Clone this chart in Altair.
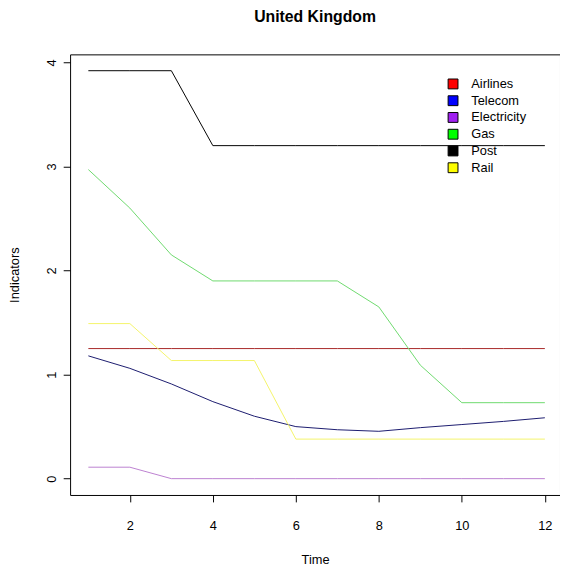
import altair as alt
import pandas as pd

# ---- data ----
time = [1, 2, 3, 4, 5, 6, 7, 8, 9, 10, 11, 12]
airlines = [1.25, 1.25, 1.25, 1.25, 1.25, 1.25, 1.25, 1.25, 1.25, 1.25, 1.25, 1.25]
telecom = [1.18, 1.06, 0.91, 0.74, 0.60, 0.50, 0.47, 0.455, 0.49, 0.52, 0.55, 0.585]
electricity = [0.11, 0.11, 0.0, 0.0, 0.0, 0.0, 0.0, 0.0, 0.0, 0.0, 0.0, 0.0]
gas = [2.97, 2.60, 2.15, 1.90, 1.90, 1.90, 1.90, 1.65, 1.09, 0.73, 0.73, 0.73]
post = [3.92, 3.92, 3.92, 3.20, 3.20, 3.20, 3.20, 3.20, 3.20, 3.20, 3.20, 3.20]
rail = [1.49, 1.49, 1.135, 1.135, 1.135, 0.38, 0.38, 0.38, 0.38, 0.38, 0.38, 0.38]

series_names = ["Airlines", "Telecom", "Electricity", "Gas", "Post", "Rail"]
line_colors = ["#A82828", "#1A1A6E", "#BC80D0", "#6ED96E", "#000000", "#F4F46A"]
legend_colors = ["#FF0000", "#0000FF", "#A020F0", "#00FF00", "#000000", "#FFFF00"]
x_ticks = [2, 4, 6, 8, 10, 12]
y_ticks = [0, 1, 2, 3, 4]

values = {
    "Airlines": airlines,
    "Telecom": telecom,
    "Electricity": electricity,
    "Gas": gas,
    "Post": post,
    "Rail": rail,
}
rows = []
for name in series_names:
    for t, v in zip(time, values[name]):
        rows.append({"Time": t, "Value": v, "Series": name})
df = pd.DataFrame(rows)

FONT = "Liberation Sans"
FS = 13

x_scale = alt.Scale(domain=[0.56, 12.365], nice=False, zero=False)
y_scale = alt.Scale(domain=[-0.157, 4.077], nice=False, zero=False)

x_enc = alt.X(
    "Time:Q",
    scale=x_scale,
    axis=alt.Axis(
        values=x_ticks, title="Time", grid=False, domain=False, format="d",
        tickSize=7, tickColor="#000", labelPadding=18, labelFontSize=FS,
        labelFont=FONT, labelColor="#000", titleFont=FONT, titleFontSize=FS,
        titleFontWeight="normal", titleColor="#000", titleY=60,
        titleBaseline="top", labelFlush=False,
    ),
)
y_enc = alt.Y(
    "Value:Q",
    scale=y_scale,
    axis=alt.Axis(
        values=y_ticks, title="Indicators", grid=False, domain=False, format="d",
        tickSize=7, tickColor="#000", labelAngle=270, labelAlign="center",
        labelBaseline="bottom", labelPadding=5, labelFontSize=FS,
        labelFont=FONT, labelColor="#000", titleFont=FONT, titleFontSize=FS,
        titleFontWeight="normal", titleColor="#000", titleAngle=270,
        titleAlign="center", titleBaseline="middle", titleX=-56, titleY=223.5,
        labelFlush=False,
    ),
)

lines = alt.Chart(df).mark_line(strokeWidth=1, interpolate="linear").encode(
    x=x_enc,
    y=y_enc,
    color=alt.Color(
        "Series:N",
        scale=alt.Scale(domain=series_names, range=line_colors),
        legend=None,
    ),
    detail="Series:N",
)

# points moved outside the plotted domain and clipped: only their legend shows
legend_layer = alt.Chart(df).transform_calculate(
    Hidden="datum.Time - 100", Key="datum.Series"
).mark_square(size=100, clip=True).encode(
    x=alt.X("Hidden:Q", scale=x_scale),
    y=alt.Y("Value:Q", scale=y_scale),
    fill=alt.Fill(
        "Key:N",
        scale=alt.Scale(domain=series_names, range=legend_colors),
        legend=alt.Legend(
            title=None, orient="none", legendX=382, legendY=23.5,
            symbolType="square", symbolSize=100, symbolStrokeColor="#000",
            symbolStrokeWidth=1, symbolOpacity=1,
            labelFont=FONT, labelFontSize=FS, labelColor="#000",
            labelOffset=12, rowPadding=2, padding=0,
        ),
    ),
)

chart = alt.layer(lines, legend_layer).resolve_scale(
    color="independent", fill="independent"
).properties(
    width=497,
    height=447,
    background="white",
    title=alt.TitleParams(
        "United Kingdom", font=FONT, fontSize=16, fontWeight="bold",
        color="#000", anchor="middle", offset=30,
    ),
    autosize=alt.AutoSizeParams(type="none"),
    padding={"left": 63, "top": 43, "right": 0, "bottom": 68},
).configure_view(stroke="#000", strokeWidth=1)

chart.save("out.html", embed_options={"renderer": "svg", "actions": False})
